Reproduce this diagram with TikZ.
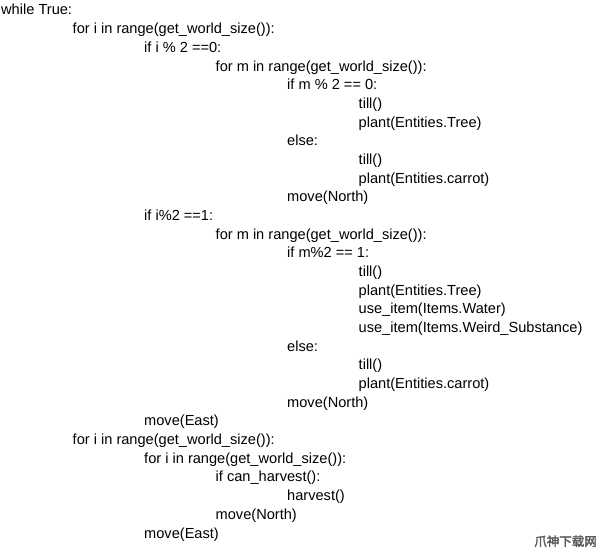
\documentclass[tikz,border=0pt]{standalone}
\usepackage{fontspec}
\setmainfont{Liberation Sans}
\newfontfamily\cjk[FakeBold=2.5]{Noto Sans CJK SC}
\begin{document}
\begin{tikzpicture}[x=1pt,y=1pt,
  code/.style={anchor=base west,inner sep=0pt,font=\fontsize{14.6}{17}\selectfont,text=black},
  wm/.style={anchor=base east,inner sep=0pt,font=\cjk\fontsize{12.5}{14}\selectfont,text=black!65}]
\useasboundingbox[fill=white] (0,0) rectangle (600,551);
\def\L{71.5}
\def\H{18.68}
\newcommand\codeline[4]{\node[code] (#1) at ({#2*\L+1},{551-15-#3*\H}) {#4};}
\codeline{l1}{0}{0}{while True:}
\codeline{l2}{1}{1}{for i in range(get\_world\_size()):}
\codeline{l3}{2}{2}{if i \% 2 ==0:}
\codeline{l4}{3}{3}{for m in range(get\_world\_size()):}
\codeline{l5}{4}{4}{if m \% 2 == 0:}
\codeline{l6}{5}{5}{till()}
\codeline{l7}{5}{6}{plant(Entities.Tree)}
\codeline{l8}{4}{7}{else:}
\codeline{l9}{5}{8}{till()}
\codeline{l10}{5}{9}{plant(Entities.carrot)}
\codeline{l11}{4}{10}{move(North)}
\codeline{l12}{2}{11}{if i\%2 ==1:}
\codeline{l13}{3}{12}{for m in range(get\_world\_size()):}
\codeline{l14}{4}{13}{if m\%2 == 1:}
\codeline{l15}{5}{14}{till()}
\codeline{l16}{5}{15}{plant(Entities.Tree)}
\codeline{l17}{5}{16}{use\_item(Items.Water)}
\codeline{l18}{5}{17}{use\_item(Items.Weird\_Substance)}
\codeline{l19}{4}{18}{else:}
\codeline{l20}{5}{19}{till()}
\codeline{l21}{5}{20}{plant(Entities.carrot)}
\codeline{l22}{4}{21}{move(North)}
\codeline{l23}{2}{22}{move(East)}
\codeline{l24}{1}{23}{for i in range(get\_world\_size()):}
\codeline{l25}{2}{24}{for i in range(get\_world\_size()):}
\codeline{l26}{3}{25}{if can\_harvest():}
\codeline{l27}{4}{26}{harvest()}
\codeline{l28}{3}{27}{move(North)}
\codeline{l29}{2}{28}{move(East)}
\node[wm] (wm) at (597,5) {爪神下载网};
\end{tikzpicture}
\end{document}
